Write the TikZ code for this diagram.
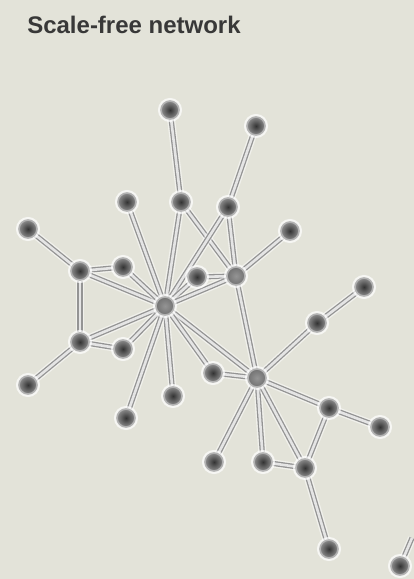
\documentclass[tikz,border=0pt]{standalone}
\usepackage{fontspec}
\setmainfont{Liberation Sans}
\pgfdeclarelayer{bglayer}
\pgfdeclarelayer{edgelayer}
\pgfsetlayers{bglayer,edgelayer,main}
\definecolor{bgc}{RGB}{227,227,217}
\begin{document}
\begin{tikzpicture}[x=1pt,y=-1pt,
  edge/.style={draw=black!42, line width=1.3pt, double=white!80!gray, double distance=2.6pt,
    preaction={draw=white, line width=8pt, opacity=0.5}},
  nd/.style={circle, minimum size=18pt, inner sep=0pt, inner color=black!80, outer color=black!45,
    draw=black!30, line width=1.6pt, preaction={draw=white, line width=6pt, opacity=0.7}},
  hub/.style={circle, minimum size=18pt, inner sep=0pt, inner color=black!42, outer color=black!55,
    draw=black!30, line width=1.6pt, preaction={draw=white, line width=6pt, opacity=0.7}},
  title/.style={font=\bfseries\fontsize{24}{24}\selectfont, text=black!78, inner sep=0pt}
]
\begin{pgfonlayer}{bglayer}
\fill[bgc] (0,0) rectangle (414,579);
\end{pgfonlayer}
\useasboundingbox (0,0) rectangle (414,579);
\clip (0,0) rectangle (414,579);

\node[title] (t) at (134,25) {Scale-free network};

\node[nd] (a) at (170,110) {};
\node[nd] (b) at (256,126) {};
\node[nd] (c) at (127,202) {};
\node[nd] (d) at (181,202) {};
\node[nd] (e) at (228,207) {};
\node[nd] (f) at (28,229) {};
\node[nd] (g) at (290,231) {};
\node[nd] (h) at (80,271) {};
\node[nd] (i) at (123,267) {};
\node[nd] (j) at (197,277) {};
\node[hub] (k) at (236,276) {};
\node[hub] (h1) at (165,306) {};
\node[nd] (l) at (364,287) {};
\node[nd] (m) at (317,323) {};
\node[nd] (n) at (80,342) {};
\node[nd] (o) at (123,349) {};
\node[nd] (p) at (213,373) {};
\node[hub] (h2) at (257,378) {};
\node[nd] (q) at (28,385) {};
\node[nd] (r) at (173,396) {};
\node[nd] (s) at (329,408) {};
\node[nd] (tt) at (380,427) {};
\node[nd] (u) at (126,418) {};
\node[nd] (v) at (214,462) {};
\node[nd] (w) at (263,462) {};
\node[nd] (x) at (305,468) {};
\node[nd] (y) at (329,549) {};
\node[nd] (z) at (400,566) {};
\coordinate (zend) at (412,538);

\begin{pgfonlayer}{edgelayer}
\foreach \s/\t in {a/d, d/h1, b/e, e/k, d/k, e/h1, c/h1, f/h, h/i, h/h1, i/h1,
  h/n, n/h1, n/o, o/h1, n/q, j/h1, j/k, k/h1, k/g, k/h2, h1/h2, h1/p, p/h2,
  h1/r, h1/u, l/m, m/h2, h2/s, s/tt, s/x, h2/v, h2/w, h2/x, w/x, x/y, z/zend}
  \draw[edge] (\s) -- (\t);
\end{pgfonlayer}
\end{tikzpicture}
\end{document}
